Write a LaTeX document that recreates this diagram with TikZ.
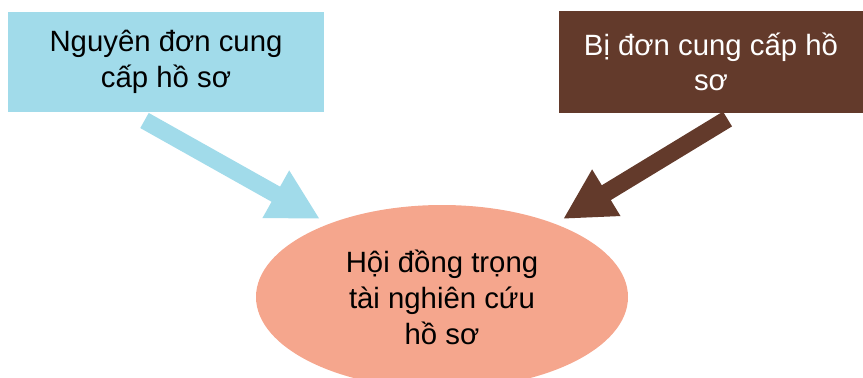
\documentclass[tikz,border=0pt]{standalone}
\usepackage{fontspec}
\setmainfont{Liberation Sans}
\usepackage{tikz}
\usepackage{xcolor}
\usetikzlibrary{arrows.meta,positioning,shapes.geometric}
\definecolor{skyfill}{RGB}{161,219,234}
\definecolor{brownfill}{RGB}{99,58,43}
\definecolor{salmonfill}{RGB}{245,166,141}

\begin{document}
\begin{tikzpicture}[x=0.75pt,y=-0.75pt,
          partybox/.style={rectangle,inner sep=0pt,align=center,
            font=\fontsize{22}{26.5}\selectfont},
          bigarrow/.style={line width=13pt,
            -{Triangle[length=38pt,width=38pt]}}]
        \useasboundingbox (0,0) rectangle (863,378);

        \node[partybox,fill=skyfill,minimum width=237pt,minimum height=75pt]
          (plaintiff) at (166,62) {Nguyên đơn cung\\cấp hồ sơ};
        \node[partybox,fill=brownfill,text=white,minimum width=228pt,minimum height=76.5pt]
          (defendant) at (711,62) {Bị đơn cung cấp hồ\\sơ};
        \node[ellipse,fill=salmonfill,inner sep=0pt,align=center,
          minimum width=279pt,minimum height=138pt,
          font=\fontsize{22}{27}\selectfont]
          (council) at (442,297) {Hội đồng trọng\\tài nghiên cứu\\hồ sơ};

        \coordinate (ltail) at (144.5,120.5);
        \coordinate (ltip) at (320,219);
        \coordinate (rtail) at (727.5,119);
        \coordinate (rtip) at (563,219);

        \draw[bigarrow,draw=skyfill] (ltail) -- (ltip);
        \draw[bigarrow,draw=brownfill] (rtail) -- (rtip);
      \end{tikzpicture}
\end{document}
